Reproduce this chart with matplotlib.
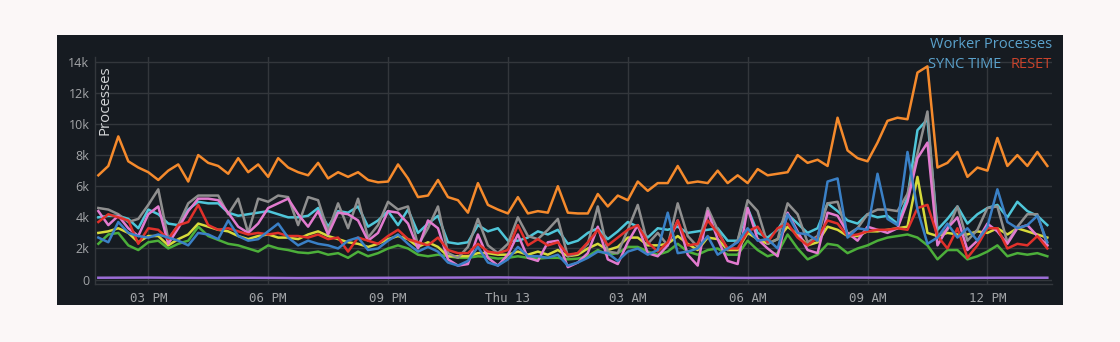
import matplotlib
matplotlib.use("Agg")
import matplotlib.pyplot as plt
import pandas as pd
from matplotlib.patches import Rectangle

# Sample times: every 15 minutes from Wed 13:45 to Thu 13:30
times = pd.date_range("2024-06-12 13:45", periods=96, freq="15min")
purple_times = times[::5]

orange = [6700, 7300, 9200, 7600, 7200, 6900, 6400, 7000, 7400, 6300, 8000, 7500, 7300, 6800, 7800, 6900, 7400,
          6600, 7800, 7200, 6900, 6700, 7500, 6500, 6900, 6600, 6900, 6400, 6250, 6300, 7400, 6500, 5300,
          5400, 6400, 5300, 5100, 4300, 6200, 4800, 4500, 4250, 5300, 4250, 4400, 4300, 6000, 4300, 4250,
          4250, 5500, 4700, 5400, 5100, 6300, 5700, 6200, 6200, 7300, 6200, 6300, 6200, 7000, 6200, 6700,
          6200, 7100, 6700, 6800, 6900, 8000, 7500, 7700, 7300, 10400, 8300, 7800, 7600, 8800, 10200, 10400,
          10300, 13300, 13700, 7200, 7500, 8200, 6600, 7200, 7000, 9100, 7300, 8000, 7300, 8200, 7300]

gray = [4600, 4500, 4200, 3700, 3900, 4800, 5800, 2600, 3500, 4900, 5400, 5400, 5400, 4200, 5200, 3000, 5200,
        5000, 5400, 5300, 3500, 5300, 5100, 3100, 4900, 3300, 5200, 2700, 3500, 5000, 4500, 4700, 2200,
        3300, 4700, 1700, 1400, 2100, 3900, 2200, 1700, 2300, 4000, 2800, 2600, 3200, 3900, 1500, 1700,
        2300, 4700, 1800, 1700, 3200, 4800, 2300, 3000, 2200, 4900, 2800, 2100, 4600, 3200, 1900, 2500,
        5100, 4400, 2300, 2600, 4900, 4200, 2400, 2800, 4900, 5000, 2900, 3300, 4200, 4500, 4500, 4400,
        5500, 8100, 10800, 2800, 3200, 4700, 2500, 3200, 4600, 4700, 2400, 3400, 4200, 4200, 2200]

cyan = [4000, 4100, 4100, 3900, 3300, 4500, 4200, 3600, 3500, 4500, 5000, 4900, 4900, 4300, 4100, 4200, 4300,
        4400, 4200, 4000, 4000, 4100, 4600, 3400, 4400, 4300, 4700, 3400, 3800, 4400, 3500, 4500, 3000,
        3600, 4100, 2400, 2300, 2400, 3500, 3100, 3300, 2500, 2500, 2700, 3100, 2900, 3200, 2300, 2500,
        3000, 3300, 2600, 3100, 3700, 3400, 2700, 3300, 3200, 3400, 3000, 3100, 3200, 3300, 2500, 2500,
        4600, 3000, 2700, 3200, 4200, 3600, 3000, 3300, 4900, 4400, 3800, 3600, 4200, 4000, 4100, 3600,
        5300, 9600, 10300, 3200, 3900, 4700, 3600, 4200, 4600, 4800, 4000, 5000, 4400, 4100, 3500]

pink = [4400, 3500, 4100, 3300, 2800, 4200, 4700, 2300, 3300, 4400, 5200, 5200, 5100, 4300, 3400, 3000, 3600,
        4600, 4900, 5200, 4200, 3400, 4400, 2900, 4300, 4200, 3800, 2500, 3000, 4400, 4300, 3600, 2000,
        3800, 3300, 1300, 900, 1000, 2900, 1400, 900, 1600, 2900, 1400, 1200, 2400, 2500, 800, 1100,
        1700, 3400, 1300, 1000, 2400, 3500, 1700, 1500, 2200, 3800, 1600, 900, 4400, 2600, 1200, 1000,
        4600, 2600, 2000, 1500, 4300, 3100, 1900, 1700, 4300, 4100, 3000, 2500, 3400, 3200, 3000, 3300,
        5000, 7800, 8800, 2200, 3300, 4000, 1900, 2500, 3600, 3100, 2300, 3300, 3500, 2800, 2200]

red = [3700, 4200, 4000, 3800, 2300, 3300, 3200, 2600, 3500, 3700, 4800, 3500, 3200, 3300, 3100, 2900, 3000,
       2900, 3000, 2800, 2800, 2700, 2900, 2600, 2700, 1800, 2700, 2500, 2300, 2800, 3200, 2600, 2400,
       2200, 2700, 1900, 1700, 1700, 2300, 1800, 1700, 1900, 3500, 2200, 2600, 2200, 2400, 1600, 1700,
       2400, 3200, 2200, 2700, 3200, 3500, 2400, 1800, 2400, 3800, 2200, 2300, 3800, 3000, 2000, 2000,
       3100, 3400, 2400, 3300, 3600, 2700, 2200, 2700, 3800, 3600, 2800, 2900, 3100, 3200, 3200, 3300,
       3200, 4600, 4800, 2800, 2000, 3300, 1400, 2200, 3300, 3300, 2000, 2300, 2200, 2800, 2000]

yellow = [3000, 3100, 3300, 3000, 2400, 2800, 2800, 2200, 2600, 2900, 3600, 3400, 3200, 3100, 2800, 2600, 2800,
          2900, 2700, 2700, 2600, 2900, 3100, 2800, 2600, 2400, 2300, 2100, 2300, 2600, 2800, 2600, 2100,
          2400, 2100, 1500, 1500, 1500, 1700, 1700, 1600, 1600, 1800, 1600, 1800, 1600, 1900, 1500, 1600,
          2000, 2300, 1900, 2100, 2700, 2700, 2200, 2200, 2300, 2800, 2300, 1900, 2700, 2600, 1900, 1900,
          3000, 2600, 2300, 2600, 3400, 2900, 2200, 2400, 3400, 3200, 2800, 2800, 3100, 3100, 3200, 3300,
          3400, 6600, 3000, 2800, 3000, 2900, 2900, 3100, 3000, 3300, 2900, 3300, 3100, 2900, 2700]

green = [2300, 2900, 3000, 2200, 1900, 2400, 2500, 2000, 2300, 2500, 3400, 2800, 2550, 2300, 2200, 2000, 1800,
         2200, 2000, 1900, 1750, 1700, 1800, 1600, 1700, 1400, 1800, 1500, 1700, 2000, 2200, 2000, 1600,
         1500, 1600, 1500, 1400, 1400, 1500, 1450, 1350, 1400, 1500, 1400, 1350, 1400, 1400, 1300, 1350,
         1500, 1900, 1600, 1700, 2100, 2100, 1800, 1600, 1800, 2300, 1800, 1600, 1900, 2000, 1600, 1600,
         2500, 1900, 1500, 1700, 2900, 2000, 1300, 1600, 2300, 2200, 1700, 2000, 2200, 2500, 2700, 2800,
         2900, 2700, 2200, 1300, 1900, 1900, 1300, 1500, 1800, 2200, 1500, 1700, 1600, 1700, 1500]

blue = [2700, 2400, 3700, 3000, 2800, 2700, 2900, 2700, 2500, 2200, 3000, 2900, 2600, 3800, 2800, 2500, 2600,
        3100, 3600, 2700, 2200, 2500, 2300, 2200, 2000, 2500, 2700, 1900, 2000, 2500, 2900, 2300, 1800,
        2100, 1800, 1100, 900, 1200, 2100, 1100, 900, 1300, 2100, 1500, 1500, 1400, 1600, 900, 1100,
        1400, 1800, 1700, 1200, 1800, 2000, 1600, 1900, 4300, 1700, 1800, 2000, 2800, 1600, 2000, 2400,
        3300, 2500, 2600, 2000, 4200, 3000, 2900, 2500, 6300, 6500, 2700, 3300, 3200, 6800, 3900, 3500,
        8200, 4500, 2300, 2700, 3600, 2700, 3300, 2500, 3400, 5800, 3700, 3300, 3500, 4100, 2400]

purple = [120, 130, 110, 120, 100, 110, 120, 130, 140, 120,
          110, 120, 130, 110, 120, 130, 120, 110, 120, 120]

tick_times = pd.to_datetime(["2024-06-12 15:00", "2024-06-12 18:00", "2024-06-12 21:00",
                             "2024-06-13 00:00", "2024-06-13 03:00", "2024-06-13 06:00",
                             "2024-06-13 09:00", "2024-06-13 12:00"])
tick_labels = ["03 PM", "06 PM", "09 PM", "Thu 13", "03 AM", "06 AM", "09 AM", "12 PM"]
y_ticks = [0, 2000, 4000, 6000, 8000, 10000, 12000, 14000]
y_tick_labels = ["0", "2k", "4k", "6k", "8k", "10k", "12k", "14k"]

BG = "#161b21"
GRID = "#33373c"
TICK = "#a3a5a8"

W, H = 1120, 342
fig = plt.figure(figsize=(W / 100, H / 100), dpi=100)
fig.patch.set_facecolor("#fbf7f7")
fig.patches.append(Rectangle((57 / W, (H - 305) / H), 1006 / W, 270 / H,
                             transform=fig.transFigure, facecolor=BG,
                             edgecolor="none", zorder=-10))

ax = fig.add_axes([95 / W, (H - 283.5) / H, 957 / W, 226.5 / H])
ax.set_facecolor(BG)

series = [
    (purple_times, purple, "#9b6dd6"),
    (times, green, "#4caf3a"),
    (times, yellow, "#d6da3b"),
    (times, cyan, "#4fc6d9"),
    (times, gray, "#8f8f8f"),
    (times, pink, "#e27bcf"),
    (times, red, "#e0312b"),
    (times, blue, "#3a80c6"),
    (times, orange, "#f58a2c"),
]
for t, v, c in series:
    ax.plot(t, v, color=c, lw=1.8, solid_joinstyle="round")

ax.set_xlim(pd.Timestamp("2024-06-12 13:40"), pd.Timestamp("2024-06-13 13:37"))
ax.set_ylim(-250, 14300)

ax.set_xticks(tick_times)
ax.set_xticklabels(tick_labels, family="DejaVu Sans Mono", fontsize=9, color=TICK)
ax.set_yticks(y_ticks)
ax.set_yticklabels(y_tick_labels, family="Open Sans", fontsize=9, color=TICK)
ax.tick_params(axis="both", length=0)
ax.tick_params(axis="x", pad=6)
ax.tick_params(axis="y", pad=4)

ax.grid(True, color=GRID, lw=1)
ax.set_axisbelow(True)
for side in ("top", "right"):
    ax.spines[side].set_visible(False)
for side in ("left", "bottom"):
    ax.spines[side].set_color(GRID)
    ax.spines[side].set_linewidth(1)

fig.text(105.5 / W, (H - 65) / H, "Processes", rotation=90, ha="center", va="top",
         family="Open Sans", fontsize=10.8, color="#d4d6d8")

fig.text(1052 / W, (H - 44) / H, "Worker Processes", ha="right", va="center",
         family="Open Sans", fontsize=10.5, color="#5ba2cc")
fig.text(1052 / W, (H - 64) / H, "RESET", ha="right", va="center",
         family="Open Sans", fontsize=10.5, color="#c9432c")
fig.text(1001 / W, (H - 64) / H, "SYNC TIME", ha="right", va="center",
         family="Open Sans", fontsize=10.5, color="#5ba2cc")

fig.savefig("out.png", dpi=100, facecolor=fig.get_facecolor())
